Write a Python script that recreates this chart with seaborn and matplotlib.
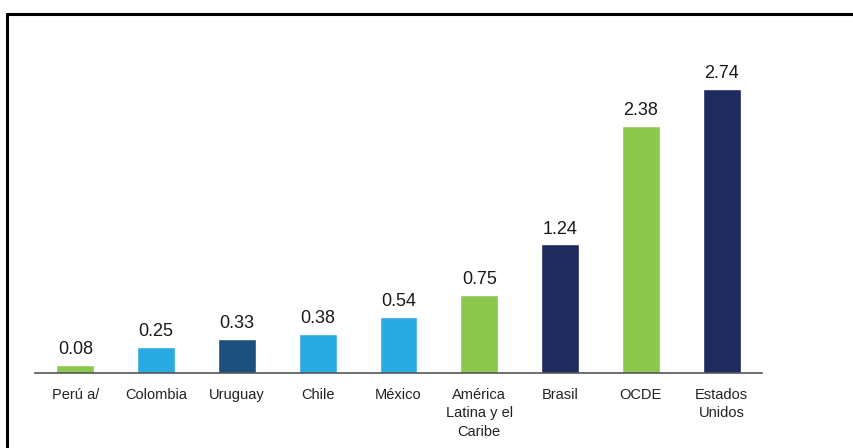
import matplotlib
matplotlib.use("Agg")
import matplotlib.pyplot as plt
import seaborn as sns
import pandas as pd
from matplotlib.lines import Line2D

categories = ["Perú a/", "Colombia", "Uruguay", "Chile", "México",
              "América\nLatina y el\nCaribe", "Brasil", "OCDE", "Estados\nUnidos"]
values = [0.08, 0.25, 0.33, 0.38, 0.54, 0.75, 1.24, 2.38, 2.74]
labels = ["0.08", "0.25", "0.33", "0.38", "0.54", "0.75", "1.24", "2.38", "2.74"]
colors = ["#8cc84b", "#2aaae2", "#1c4f7c", "#2aaae2", "#2aaae2",
          "#8cc84b", "#1f2a5e", "#8cc84b", "#1f2a5e"]

sns.set_theme(style="white")
plt.rcParams['font.family'] = ['Liberation Sans', 'DejaVu Sans']

df = pd.DataFrame({"cat": categories, "val": values})

fig = plt.figure(figsize=(8.54, 4.48), dpi=100)
ax = fig.add_axes([35/854, 75/448, 727/854, 311/448])
sns.barplot(data=df, x="cat", y="val", hue="cat", palette=colors,
            legend=False, width=0.47, ax=ax, saturation=1)

ax.set_xlim(-0.5, 8.5)
ax.set_ylim(0, 3.0)
ax.set_xlabel("")
ax.set_ylabel("")
ax.set_yticks([])
for s in ["top", "right", "left"]:
    ax.spines[s].set_visible(False)
ax.spines["bottom"].set_color("#555555")
ax.spines["bottom"].set_linewidth(1.2)
ax.tick_params(axis="x", length=0, pad=11)
for t in ax.get_xticklabels():
    t.set_fontsize(10.5)
    t.set_color("#222222")
    t.set_linespacing(1.38)

for i, (v, lab) in enumerate(zip(values, labels)):
    ax.annotate(lab, (i, v), xytext=(0, 5), textcoords="offset points",
                ha="center", va="bottom", fontsize=13, color="#1a1a1a",
                annotation_clip=False)

fig.add_artist(Line2D([7/854, 1], [1 - 14/448, 1 - 14/448], color="black", lw=2.2))
fig.add_artist(Line2D([7/854, 7/854], [0, 1 - 14/448], color="black", lw=2.2))

fig.savefig("out.png", dpi=100)
